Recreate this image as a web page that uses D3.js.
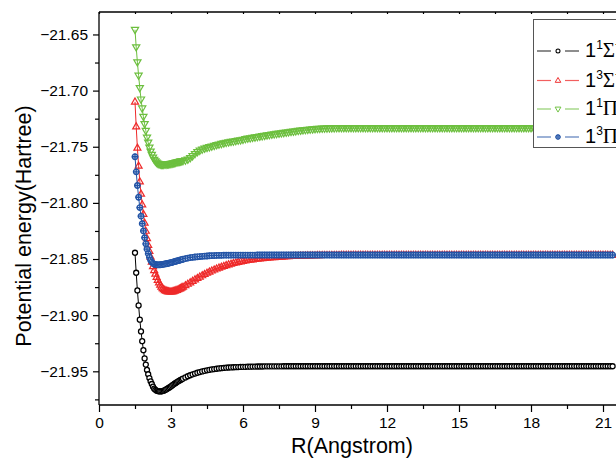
<!DOCTYPE html>
<html><head><meta charset="utf-8">
<script src="https://cdn.jsdelivr.net/npm/d3@7"></script>
<style>
html,body{margin:0;padding:0;background:#fff;overflow:hidden;}
svg{display:block;}
</style></head>
<body><svg id="chart" width="616" height="459"></svg>
<script>
// ---------- data ----------
const R = [1.50,1.55,1.60,1.65,1.70,1.75,1.80,1.85,1.90,1.95,2.00,2.05,2.10,2.15,2.20,2.25,2.30,2.35,2.40,2.45,
2.50,2.55,2.60,2.65,2.70,2.75,2.80,2.85,2.90,2.95,3.00,3.05,3.10,3.15,3.20,3.25,3.30,3.35,3.40,3.45,3.50,
3.6,3.7,3.8,3.9,4.0,4.1,4.2,4.3,4.4,4.5,4.6,4.7,4.8,4.9,5.0,5.1,5.2,5.3,5.4,5.5,5.6,5.7,5.8,5.9,6.0,
6.1,6.2,6.3,6.4,6.5,6.6,6.7,6.8,6.9,7.0,
7.1,7.2,7.3,7.4,7.5,7.6,7.7,7.8,7.9,8.0,
8.1,8.2,8.3,8.4,8.5,8.6,8.7,8.8,8.9,9.0,
9.1,9.2,9.3,9.4,9.5,9.6,9.7,9.8,9.9,10.0,
10.1,10.2,10.3,10.4,10.5,10.6,10.7,10.8,10.9,11.0,
11.1,11.2,11.3,11.4,11.5,11.6,11.7,11.8,11.9,12.0,
12.1,12.2,12.3,12.4,12.5,12.6,12.7,12.8,12.9,13.0,
13.1,13.2,13.3,13.4,13.5,13.6,13.7,13.8,13.9,14.0,
14.1,14.2,14.3,14.4,14.5,14.6,14.7,14.8,14.9,15.0,
15.1,15.2,15.3,15.4,15.5,15.6,15.7,15.8,15.9,16.0,
16.1,16.2,16.3,16.4,16.5,16.6,16.7,16.8,16.9,17.0,
17.1,17.2,17.3,17.4,17.5,17.6,17.7,17.8,17.9,18.0,
18.1,18.2,18.3,18.4,18.5,18.6,18.7,18.8,18.9,19.0,
19.1,19.2,19.3,19.4,19.5,19.6,19.7,19.8,19.9,20.0,
20.1,20.2,20.3,20.4,20.5,20.6,20.7,20.8,20.9,21.0,
21.1,21.2,21.3,21.4];

// 1^1 Sigma+
const sigma1 = [-21.8444,-21.8622,-21.8780,-21.8913,-21.9040,-21.9145,-21.9232,-21.9312,-21.9385,-21.9440,
-21.9488,-21.9526,-21.9560,-21.9589,-21.9613,-21.9637,-21.9655,-21.9665,-21.9672,-21.9676,
-21.9678,-21.9679,-21.9678,-21.9676,-21.9672,-21.9667,-21.9661,-21.9655,-21.9648,-21.9641,
-21.9634,-21.9626,-21.9618,-21.9610,-21.9603,-21.9596,-21.9589,-21.9583,-21.9577,-21.9571,-21.9565,
-21.9554,-21.9544,-21.9535,-21.9527,-21.9520,-21.9513,-21.9507,-21.9501,-21.9496,-21.9491,
-21.9487,-21.9483,-21.9480,-21.9477,-21.9474,-21.9472,-21.9470,-21.9468,-21.9466,-21.9465,
-21.9464,-21.9463,-21.9462,-21.9461,-21.9460,
-21.9460,-21.9459,-21.9459,-21.9458,-21.9458,-21.9457,-21.9457,-21.9457,-21.9456,-21.9456,
-21.9456,-21.9456,-21.9456,-21.9456,-21.9456,-21.9456,-21.9455,-21.9455,-21.9455,-21.9455,
-21.9455,-21.9455,-21.9455,-21.9455,-21.9455,-21.9455,-21.9455,-21.9455,-21.9455,-21.9455,
-21.9455,-21.9455,-21.9455,-21.9455,-21.9455,-21.9455,-21.9455,-21.9455,-21.9455,-21.9455,
-21.9455,-21.9455,-21.9455,-21.9455,-21.9455,-21.9455,-21.9455,-21.9455,-21.9455,-21.9455,
-21.9455,-21.9455,-21.9455,-21.9455,-21.9455,-21.9455,-21.9455,-21.9455,-21.9455,-21.9455,
-21.9455,-21.9455,-21.9455,-21.9455,-21.9455,-21.9455,-21.9455,-21.9455,-21.9455,-21.9455,
-21.9455,-21.9455,-21.9455,-21.9455,-21.9455,-21.9455,-21.9455,-21.9455,-21.9455,-21.9455,
-21.9455,-21.9455,-21.9455,-21.9455,-21.9455,-21.9455,-21.9455,-21.9455,-21.9455,-21.9455,
-21.9455,-21.9455,-21.9455,-21.9455,-21.9455,-21.9455,-21.9455,-21.9455,-21.9455,-21.9455,
-21.9455,-21.9455,-21.9455,-21.9455,-21.9455,-21.9455,-21.9455,-21.9455,-21.9455,-21.9455,
-21.9455,-21.9455,-21.9455,-21.9455,-21.9455,-21.9455,-21.9455,-21.9455,-21.9455,-21.9455,
-21.9455,-21.9455,-21.9455,-21.9455,-21.9455,-21.9455,-21.9455,-21.9455,-21.9455,-21.9455,
-21.9455,-21.9455,-21.9455,-21.9455,-21.9455,-21.9455,-21.9455,-21.9455,-21.9455,-21.9455,
-21.9455,-21.9455,-21.9455,-21.9455,-21.9455,-21.9455,-21.9455,-21.9455,-21.9455,-21.9455,
-21.9455,-21.9455,-21.9455,-21.9455];

// 1^3 Sigma+
const sigma3 = [-21.7100,-21.7320,-21.7510,-21.7670,-21.7810,-21.7920,-21.8015,-21.8100,-21.8178,-21.8250,
-21.8316,-21.8376,-21.8430,-21.8480,-21.8525,-21.8565,-21.8600,-21.8632,-21.8661,-21.8687,
-21.8710,-21.8730,-21.8747,-21.8760,-21.8770,-21.8778,-21.8783,-21.8787,-21.8789,-21.8790,
-21.8790,-21.8789,-21.8787,-21.8784,-21.8780,-21.8776,-21.8771,-21.8766,-21.8760,-21.8754,-21.8748,
-21.8735,-21.8722,-21.8709,-21.8696,-21.8683,-21.8670,-21.8658,-21.8646,-21.8635,-21.8624,
-21.8614,-21.8604,-21.8595,-21.8586,-21.8578,-21.8570,-21.8563,-21.8556,-21.8549,-21.8543,
-21.8537,-21.8532,-21.8527,-21.8522,-21.8518,
-21.8514,-21.8510,-21.8507,-21.8504,-21.8501,-21.8499,-21.8496,-21.8494,-21.8492,-21.8490,
-21.8488,-21.8486,-21.8484,-21.8483,-21.8481,-21.8480,-21.8478,-21.8477,-21.8476,-21.8475,
-21.8474,-21.8473,-21.8472,-21.8471,-21.8470,-21.8470,-21.8469,-21.8469,-21.8468,-21.8468,
-21.8467,-21.8467,-21.8466,-21.8466,-21.8466,-21.8466,-21.8465,-21.8465,-21.8465,-21.8465,
-21.8464,-21.8464,-21.8464,-21.8464,-21.8464,-21.8464,-21.8464,-21.8464,-21.8464,-21.8464,
-21.8464,-21.8464,-21.8464,-21.8464,-21.8464,-21.8464,-21.8464,-21.8464,-21.8464,-21.8464,
-21.8464,-21.8464,-21.8464,-21.8464,-21.8464,-21.8464,-21.8464,-21.8464,-21.8464,-21.8464,
-21.8464,-21.8464,-21.8464,-21.8464,-21.8464,-21.8464,-21.8464,-21.8464,-21.8464,-21.8464,
-21.8464,-21.8464,-21.8464,-21.8464,-21.8464,-21.8464,-21.8464,-21.8464,-21.8464,-21.8464,
-21.8464,-21.8464,-21.8464,-21.8464,-21.8464,-21.8464,-21.8464,-21.8464,-21.8464,-21.8464,
-21.8464,-21.8464,-21.8464,-21.8464,-21.8464,-21.8464,-21.8464,-21.8464,-21.8464,-21.8464,
-21.8464,-21.8464,-21.8464,-21.8464,-21.8464,-21.8464,-21.8464,-21.8464,-21.8464,-21.8464,
-21.8464,-21.8464,-21.8464,-21.8464,-21.8464,-21.8464,-21.8464,-21.8464,-21.8464,-21.8464,
-21.8464,-21.8464,-21.8464,-21.8464,-21.8464,-21.8464,-21.8464,-21.8464,-21.8464,-21.8464,
-21.8464,-21.8464,-21.8464,-21.8464,-21.8464,-21.8464,-21.8464,-21.8464,-21.8464,-21.8464,
-21.8464,-21.8464,-21.8464,-21.8464];

// 1^1 Pi
const pi1 = [-21.6458,-21.6613,-21.6747,-21.6866,-21.6976,-21.7078,-21.7158,-21.7232,-21.7297,-21.7357,
-21.7417,-21.7462,-21.7506,-21.7542,-21.7571,-21.7596,-21.7615,-21.7630,-21.7641,-21.7649,
-21.7655,-21.7658,-21.7659,-21.7659,-21.7659,-21.7658,-21.7657,-21.7656,-21.7655,-21.7654,
-21.7652,-21.7649,-21.7646,-21.7644,-21.7641,-21.7638,-21.7635,-21.7633,-21.7630,-21.7628,-21.7626,
-21.7621,-21.7614,-21.7600,-21.7583,-21.7564,-21.7547,-21.7534,-21.7524,-21.7516,-21.7509,
-21.7503,-21.7497,-21.7491,-21.7485,-21.7479,-21.7474,-21.7469,-21.7464,-21.7460,-21.7456,
-21.7452,-21.7448,-21.7444,-21.7441,-21.7437,
-21.7430,-21.7426,-21.7423,-21.7419,-21.7416,-21.7412,-21.7409,-21.7405,-21.7402,-21.7398,
-21.7395,-21.7391,-21.7388,-21.7385,-21.7382,-21.7379,-21.7376,-21.7373,-21.7370,-21.7367,
-21.7364,-21.7361,-21.7358,-21.7355,-21.7352,-21.7350,-21.7348,-21.7346,-21.7344,-21.7342,
-21.7340,-21.7339,-21.7338,-21.7337,-21.7336,-21.7335,-21.7334,-21.7334,-21.7333,-21.7333,
-21.7333,-21.7333,-21.7333,-21.7333,-21.7333,-21.7333,-21.7333,-21.7333,-21.7333,-21.7333,
-21.7333,-21.7333,-21.7333,-21.7333,-21.7333,-21.7333,-21.7333,-21.7333,-21.7333,-21.7333,
-21.7333,-21.7333,-21.7333,-21.7333,-21.7333,-21.7333,-21.7333,-21.7333,-21.7333,-21.7333,
-21.7333,-21.7333,-21.7333,-21.7333,-21.7333,-21.7333,-21.7333,-21.7333,-21.7333,-21.7333,
-21.7333,-21.7333,-21.7333,-21.7333,-21.7333,-21.7333,-21.7333,-21.7333,-21.7333,-21.7333,
-21.7333,-21.7333,-21.7333,-21.7333,-21.7333,-21.7333,-21.7333,-21.7333,-21.7333,-21.7333,
-21.7333,-21.7333,-21.7333,-21.7333,-21.7333,-21.7333,-21.7333,-21.7333,-21.7333,-21.7333,
-21.7333,-21.7333,-21.7333,-21.7333,-21.7333,-21.7333,-21.7333,-21.7333,-21.7333,-21.7333,
-21.7333,-21.7333,-21.7333,-21.7333,-21.7333,-21.7333,-21.7333,-21.7333,-21.7333,-21.7333,
-21.7333,-21.7333,-21.7333,-21.7333,-21.7333,-21.7333,-21.7333,-21.7333,-21.7333,-21.7333,
-21.7333,-21.7333,-21.7333,-21.7333,-21.7333,-21.7333,-21.7333,-21.7333,-21.7333,-21.7333,
-21.7333,-21.7333,-21.7333,-21.7333];

// 1^3 Pi
const pi3 = [-21.7589,-21.7723,-21.7845,-21.7950,-21.8042,-21.8118,-21.8185,-21.8250,-21.8310,-21.8365,
-21.8412,-21.8452,-21.8485,-21.8510,-21.8527,-21.8538,-21.8545,-21.8549,-21.8551,-21.8552,
-21.8552,-21.8551,-21.8550,-21.8548,-21.8546,-21.8544,-21.8542,-21.8540,-21.8537,-21.8535,
-21.8532,-21.8529,-21.8526,-21.8523,-21.8520,-21.8517,-21.8514,-21.8511,-21.8508,-21.8505,-21.8502,
-21.8497,-21.8492,-21.8488,-21.8485,-21.8482,-21.8480,-21.8478,-21.8476,-21.8474,-21.8473,
-21.8471,-21.8470,-21.8469,-21.8468,-21.8467,-21.8467,-21.8466,-21.8466,-21.8466,-21.8466,
-21.8465,-21.8465,-21.8465,-21.8465,-21.8465,
-21.8465,-21.8465,-21.8465,-21.8465,-21.8465,-21.8464,-21.8464,-21.8464,-21.8464,-21.8464,
-21.8464,-21.8464,-21.8464,-21.8464,-21.8464,-21.8464,-21.8464,-21.8464,-21.8464,-21.8464,
-21.8464,-21.8464,-21.8464,-21.8464,-21.8464,-21.8464,-21.8464,-21.8464,-21.8464,-21.8464,
-21.8464,-21.8464,-21.8464,-21.8464,-21.8464,-21.8464,-21.8464,-21.8464,-21.8464,-21.8464,
-21.8464,-21.8464,-21.8464,-21.8464,-21.8464,-21.8464,-21.8464,-21.8464,-21.8464,-21.8464,
-21.8464,-21.8464,-21.8464,-21.8464,-21.8464,-21.8464,-21.8464,-21.8464,-21.8464,-21.8464,
-21.8464,-21.8464,-21.8464,-21.8464,-21.8464,-21.8464,-21.8464,-21.8464,-21.8464,-21.8464,
-21.8464,-21.8464,-21.8464,-21.8464,-21.8464,-21.8464,-21.8464,-21.8464,-21.8464,-21.8464,
-21.8464,-21.8464,-21.8464,-21.8464,-21.8464,-21.8464,-21.8464,-21.8464,-21.8464,-21.8464,
-21.8464,-21.8464,-21.8464,-21.8464,-21.8464,-21.8464,-21.8464,-21.8464,-21.8464,-21.8464,
-21.8464,-21.8464,-21.8464,-21.8464,-21.8464,-21.8464,-21.8464,-21.8464,-21.8464,-21.8464,
-21.8464,-21.8464,-21.8464,-21.8464,-21.8464,-21.8464,-21.8464,-21.8464,-21.8464,-21.8464,
-21.8464,-21.8464,-21.8464,-21.8464,-21.8464,-21.8464,-21.8464,-21.8464,-21.8464,-21.8464,
-21.8464,-21.8464,-21.8464,-21.8464,-21.8464,-21.8464,-21.8464,-21.8464,-21.8464,-21.8464,
-21.8464,-21.8464,-21.8464,-21.8464,-21.8464,-21.8464,-21.8464,-21.8464,-21.8464,-21.8464,
-21.8464,-21.8464,-21.8464,-21.8464];

const seriesNames = ["1^1Σ+", "1^3Σ+", "1^1Π", "1^3Π"];
const xTickValues = [0, 3, 6, 9, 12, 15, 18, 21];
const xMinorValues = [1.5, 4.5, 7.5, 10.5, 13.5, 16.5, 19.5];
const yTickValues = [-21.95, -21.90, -21.85, -21.80, -21.75, -21.70, -21.65];
const yMinorValues = [-21.975, -21.925, -21.875, -21.825, -21.775, -21.725, -21.675];
const xTitle = "R(Angstrom)";
const yTitle = "Potential energy(Hartree)";

// ---------- layout ----------
const svg = d3.select("#chart");
const pLeft = 99, pTop = 12, pBottom = 405;
const x = d3.scaleLinear().domain([0, 22]).range([pLeft, pLeft + 22 * 24]);
const y = d3.scaleLinear().domain([-21.98, -21.63]).range([pBottom, pTop]);
const FONT = "'Liberation Sans', Arial, sans-serif";

const colors = ["#000000", "#ee2a2a", "#6cbf3e", "#2354a6"];

// markers
const triUp = (s) => { const h = s * 0.866; return `M0,${-h*0.62}L${s/2},${h*0.38}L${-s/2},${h*0.38}Z`; };
const triDown = (s) => { const h = s * 0.866; return `M0,${h*0.62}L${s/2},${-h*0.38}L${-s/2},${-h*0.38}Z`; };
const circ = (r) => `M${r},0A${r},${r} 0 1,1 ${-r},0A${r},${r} 0 1,1 ${r},0Z`;

function drawMarker(g, k) {
  if (k === 0) {
    g.append("path").attr("d", circ(2.5)).attr("fill", "#fff").attr("stroke", colors[0]).attr("stroke-width", 1.3);
  } else if (k === 1) {
    g.append("path").attr("d", triUp(7)).attr("fill", "none").attr("stroke", colors[1]).attr("stroke-width", 1.2);
  } else if (k === 2) {
    g.append("path").attr("d", triDown(7.2)).attr("fill", "none").attr("stroke", colors[2]).attr("stroke-width", 1.2);
  } else {
    g.append("path").attr("d", circ(2.7)).attr("fill", "#dfe7f4").attr("stroke", colors[3]).attr("stroke-width", 1.4);
    g.append("path").attr("d", "M-3.2,0H3.2M0,-3.2V3.2").attr("stroke", colors[3]).attr("stroke-width", 1.3);
  }
}

svg.append("defs").append("clipPath").attr("id", "plotclip")
  .append("rect").attr("x", pLeft).attr("y", pTop).attr("width", 600).attr("height", pBottom - pTop);

const allSeries = [sigma1, sigma3, pi1, pi3];
const plot = svg.append("g").attr("clip-path", "url(#plotclip)");
const line = d3.line().x(d => x(d[0])).y(d => y(d[1]));

allSeries.forEach((vals, k) => {
  const n = Math.min(R.length, vals.length);
  const pts = [];
  for (let i = 0; i < n; i++) pts.push([R[i], vals[i]]);
  const g = plot.append("g");
  g.append("path").datum(pts).attr("d", line).attr("fill", "none")
    .attr("stroke", colors[k]).attr("stroke-width", 1);
  g.selectAll("g.m").data(pts).enter().append("g").attr("class", "m")
    .attr("transform", d => `translate(${x(d[0])},${y(d[1])})`)
    .each(function() { drawMarker(d3.select(this), k); });
});

// ---------- axes ----------
const xAxis = svg.append("g").attr("transform", `translate(0,${pBottom})`)
  .call(d3.axisBottom(x).tickValues(xTickValues).tickSize(7).tickPadding(5).tickFormat(d3.format("d")));
const xMinor = svg.append("g").attr("transform", `translate(0,${pBottom})`)
  .call(d3.axisBottom(x).tickValues(xMinorValues).tickSize(4).tickFormat(""));
const yAxis = svg.append("g").attr("transform", `translate(${pLeft},0)`)
  .call(d3.axisLeft(y).tickValues(yTickValues).tickSize(6).tickPadding(5).tickFormat(d3.format(".2f")));
const yMinor = svg.append("g").attr("transform", `translate(${pLeft},0)`)
  .call(d3.axisLeft(y).tickValues(yMinorValues).tickSize(4).tickFormat(""));
const xTop = svg.append("g").attr("transform", `translate(0,${pTop})`)
  .call(d3.axisBottom(x).tickValues(xTickValues.concat(xMinorValues)).tickSize(2).tickFormat(""));

[xAxis, xMinor, yAxis, yMinor, xTop].forEach(a => {
  a.select(".domain").attr("stroke", "#000").attr("stroke-width", 1.3);
  a.selectAll(".tick line").attr("stroke", "#000").attr("stroke-width", 1.2);
  a.selectAll("text").attr("font-family", FONT).attr("font-size", 15.5).attr("fill", "#000");
});
xMinor.select(".domain").remove();
yMinor.select(".domain").remove();
xTop.select(".domain").attr("d", `M${pLeft},0H${x(22)}`);
xAxis.select(".domain").attr("d", `M${pLeft},0H${x(22)}`);
yAxis.select(".domain").attr("d", `M0,${pTop}V${pBottom}`);

// axis titles
svg.append("text").attr("x", 352).attr("y", 453).attr("text-anchor", "middle")
  .attr("font-family", FONT).attr("font-size", 21.5).attr("fill", "#000").text(xTitle);
svg.append("text").attr("transform", "translate(31,226) rotate(-90)").attr("text-anchor", "middle")
  .attr("font-family", FONT).attr("font-size", 21.5).attr("fill", "#000").text(yTitle);

// ---------- legend ----------
const lg = svg.append("g");
lg.append("rect").attr("x", 533.5).attr("y", 19.5).attr("width", 120).attr("height", 128)
  .attr("fill", "#fff").attr("stroke", "#555").attr("stroke-width", 1);
const legY = [51, 80.5, 109, 137];
const sups = ["1", "3", "1", "3"];
const greek = ["Σ", "Σ", "Π", "Π"];
const plus = ["+", "+", "", ""];
seriesNames.forEach((nm, k) => {
  const yy = legY[k];
  lg.append("line").attr("x1", 537).attr("x2", 551).attr("y1", yy).attr("y2", yy).attr("stroke", colors[k]).attr("stroke-width", 1.2).attr("opacity", 0.75);
  lg.append("line").attr("x1", 565).attr("x2", 579).attr("y1", yy).attr("y2", yy).attr("stroke", colors[k]).attr("stroke-width", 1.2).attr("opacity", 0.75);
  const mg = lg.append("g").attr("transform", `translate(558,${yy}) scale(0.8)`);
  drawMarker(mg, k);
  const t = lg.append("text").attr("x", 585).attr("y", yy + 6).attr("font-family", FONT).attr("font-size", 20).attr("fill", "#000");
  t.append("tspan").text("1");
  t.append("tspan").attr("dy", -8).attr("font-size", 12).text(sups[k]);
  t.append("tspan").attr("dy", 8).attr("font-family", "'Liberation Serif', 'Times New Roman', serif").attr("font-size", 21).text(greek[k]);
  if (plus[k]) t.append("tspan").attr("dy", -8).attr("font-size", 12).text(plus[k]);
});

// data length sanity check (reported in error output only if mismatched)
const bad = allSeries.map((s, k) => [k, s.length]).filter(p => p[1] !== R.length);
if (bad.length) setTimeout(() => { throw new Error("length mismatch R=" + R.length + " " + JSON.stringify(bad)); }, 0);
</script>
</body></html>
